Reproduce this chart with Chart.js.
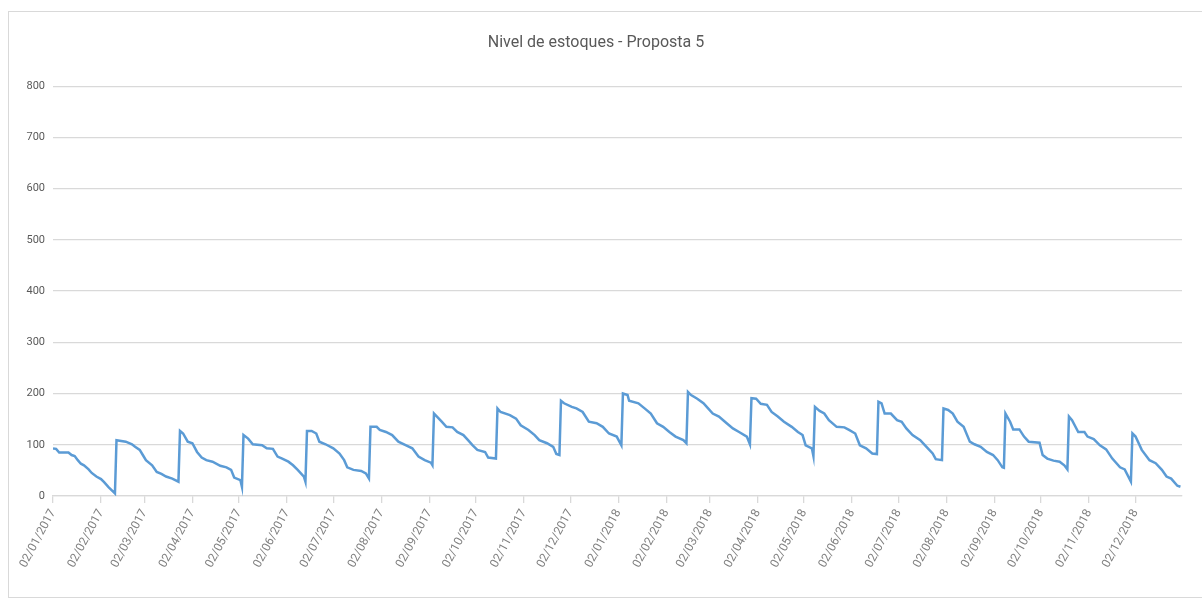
<!DOCTYPE html>
<html>
<head>
<meta charset="utf-8">
<script src="https://cdn.jsdelivr.net/npm/chart.js@4.4.0/dist/chart.umd.min.js"></script>
<style>
  html, body { margin: 0; padding: 0; background: #fff; }
  #moldura { position: absolute; left: 8px; top: 11px; width: 1194px; height: 587px; border: 1px solid #d9d9d9; border-right: none; box-sizing: border-box; }
  #grafico { position: absolute; left: 0; top: 0; }
</style>
</head>
<body>
<div id="moldura"></div>
<canvas id="grafico" width="1202" height="601"></canvas>
<script>
// rótulos do eixo x (dia 2 de cada mês)
const rotulos = [
  '02/01/2017', '02/02/2017', '02/03/2017', '02/04/2017', '02/05/2017', '02/06/2017',
  '02/07/2017', '02/08/2017', '02/09/2017', '02/10/2017', '02/11/2017', '02/12/2017',
  '02/01/2018', '02/02/2018', '02/03/2018', '02/04/2018', '02/05/2018', '02/06/2018',
  '02/07/2018', '02/08/2018', '02/09/2018', '02/10/2018', '02/11/2018', '02/12/2018'
];

// dias contados a partir de 02/01/2017
const dias = [
  0, 2, 4, 10, 12, 14, 16, 18, 20, 23, 25, 28, 31, 33, 36, 39, 40,
  41, 47, 51, 53, 56, 58, 60, 64, 67, 70, 73, 77, 81,
  82, 84, 87, 90, 93, 96, 99, 103, 108, 112, 115, 117, 121, 122,
  123, 126, 129, 135, 138, 142, 145, 148, 152, 155, 158, 162, 163,
  164, 167, 170, 172, 176, 181, 185, 188, 190, 194, 199, 202, 204,
  205, 209, 211, 215, 219, 223, 228, 232, 236, 240, 244, 245,
  246, 247, 251, 254, 258, 261, 265, 268, 271, 274, 279, 281, 286,
  287, 289, 295, 299, 302, 307, 311, 314, 319, 323, 325, 327,
  328, 330, 335, 338, 342, 346, 351, 355, 359, 364, 367,
  368, 371, 372, 378, 382, 386, 390, 394, 398, 402, 407, 409,
  410, 412, 416, 420, 423, 426, 430, 435, 439, 443, 448, 450,
  451, 454, 457, 461, 464, 468, 472, 477, 481, 484, 486, 490, 491,
  492, 495, 498, 501, 506, 511, 514, 518, 521, 525, 529, 532,
  533, 535, 537, 541, 545, 548, 551, 555, 560, 564, 568, 570, 574,
  575, 578, 581, 584, 588, 592, 595, 599, 603, 607, 610, 613, 614,
  615, 618, 620, 624, 627, 630, 637, 639, 642, 646, 650, 653, 655,
  656, 658, 662, 666, 668, 672, 676, 680, 684, 689, 692, 696,
  697, 699, 703, 708, 712, 716, 719, 722, 726, 728
];

const estoque = [
  93, 92, 85, 85, 80, 78, 70, 63, 60, 52, 45, 38, 33, 27, 17, 8, 5,
  109, 106, 101, 96, 90, 80, 70, 60, 47, 43, 38, 34, 28,
  127, 122, 106, 103, 86, 75, 70, 67, 59, 56, 51, 36, 31, 18,
  119, 112, 101, 99, 93, 92, 77, 73, 67, 60, 51, 38, 28,
  127, 127, 122, 106, 101, 93, 83, 70, 56, 51, 49, 44, 34,
  135, 135, 129, 125, 119, 106, 99, 93, 77, 70, 65, 60,
  161, 158, 145, 135, 134, 125, 119, 109, 99, 90, 86, 75, 73,
  171, 164, 158, 151, 138, 129, 119, 109, 103, 96, 82, 80,
  186, 181, 174, 171, 164, 145, 142, 135, 122, 116, 99,
  200, 197, 186, 181, 171, 161, 142, 135, 125, 116, 109, 103,
  203, 197, 190, 181, 171, 161, 155, 142, 132, 125, 116, 101,
  191, 190, 180, 178, 164, 155, 145, 135, 125, 119, 99, 93, 78,
  174, 166, 161, 148, 135, 134, 129, 122, 99, 93, 83, 82,
  184, 181, 161, 161, 148, 145, 132, 119, 109, 96, 83, 72, 70,
  171, 168, 161, 145, 135, 106, 101, 96, 86, 80, 70, 56, 55,
  161, 145, 130, 130, 116, 106, 104, 80, 73, 69, 67, 60, 52,
  155, 148, 125, 125, 116, 111, 99, 91, 73, 56, 52, 28,
  122, 116, 90, 70, 64, 51, 38, 34, 20, 18
];

const inicio = Date.UTC(2017, 0, 2);
const diaDoRotulo = r => {
  const [d, m, a] = r.split('/').map(Number);
  return (Date.UTC(a, m - 1, d) - inicio) / 86400000;
};
const diasRotulos = rotulos.map(diaDoRotulo);

const fonte = "Roboto, 'Open Sans', sans-serif";
const cinza = '#595959';

const ctx = document.getElementById('grafico').getContext('2d');
const grafico = new Chart(ctx, {
  type: 'line',
  data: {
    datasets: [{
      label: 'Nivel de estoques',
      data: dias.map((d, i) => ({ x: d, y: estoque[i] })),
      borderColor: '#5b9bd5',
      borderWidth: 2.5,
      pointRadius: 0,
      tension: 0,
      fill: false
    }]
  },
  options: {
    responsive: false,
    animation: false,
    layout: { padding: { left: 10, right: 20, bottom: 5 } },
    plugins: {
      legend: { display: false },
      tooltip: { enabled: false },
      title: {
        display: true,
        text: 'Nivel de estoques - Proposta 5',
        color: cinza,
        font: { family: fonte, size: 16, weight: 'normal' },
        padding: { top: 33, bottom: 34 }
      }
    },
    scales: {
      x: {
        type: 'linear',
        min: 0,
        max: 729,
        afterBuildTicks: s => { s.ticks = diasRotulos.map(v => ({ value: v })); },
        afterFit: s => { s.height = 100; },
        ticks: {
          autoSkip: false,
          minRotation: 62,
          maxRotation: 62,
          color: '#7f7f7f',
          font: { family: fonte, size: 12 },
          padding: 4,
          callback: (v, i) => rotulos[i]
        },
        grid: { drawOnChartArea: false, drawTicks: true, tickLength: 7, color: '#d9d9d9', lineWidth: 1.3 },
        border: { display: true, color: '#d9d9d9', width: 1.3 }
      },
      y: {
        min: 0,
        max: 800,
        afterFit: s => { s.width = 43; },
        ticks: {
          stepSize: 100,
          color: cinza,
          font: { family: fonte, size: 11 },
          padding: 8
        },
        grid: { color: '#d9d9d9', lineWidth: 1.3, drawTicks: false },
        border: { display: false }
      }
    }
  }
});
</script>
</body>
</html>
